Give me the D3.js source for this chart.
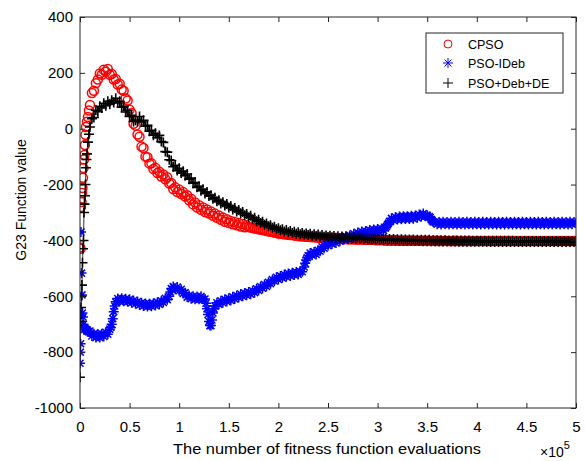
<!DOCTYPE html>
<html>
<head>
<meta charset="utf-8">
<script src="https://cdn.jsdelivr.net/npm/d3@7"></script>
<style>
  body { margin: 0; background: #fff; }
  text { font-family: Arial, "Liberation Sans", sans-serif; fill: #000; }
</style>
</head>
<body>
<svg id="chart" width="585" height="461"></svg>
<script>
// Evaluations are in thousands. The first few thousand evaluations are listed as
// [evaluations, value] pairs, the rest are sampled every 2000 evaluations.
var sampleEvals = d3.range(10, 501, 2);

var cpsoStart = [
  [0,-425],[0.5,-430],[1,-280],[1.5,-262],[2,-230],[2.5,-212],[3,-176],[3.5,-141],[4,-110],[4.5,-94],
  [5,-58],[5.5,-22],[6,6],[7,25],[8,42],[9,65]
];
var cpsoValues = [
  85,128,136,163,176,198,193,211,204,214,
  193,196,176,178,158,161,140,136,108,101,
  68,56,18,11,-21,-29,-64,-69,-100,-102,
  -125,-124,-144,-140,-159,-154,-171,-164,-181,-174,
  -196,-194,-216,-210,-227,-218,-234,-227,-243,-238,
  -256,-251,-271,-264,-282,-274,-290,-282,-298,-289,
  -304,-296,-312,-304,-319,-311,-326,-318,-333,-324,
  -338,-330,-342,-334,-346,-338,-350,-341,-353,-346,
  -352,-354,-355,-357,-358,-360,-361,-363,-364,-366,
  -367,-369,-370,-372,-373,-375,-376,-377,-378,-379,
  -380,-381,-381,-382,-383,-384,-385,-385,-386,-387,
  -387,-388,-388,-389,-389,-390,-390,-391,-391,-392,
  -392,-393,-393,-393,-394,-394,-394,-395,-395,-395,
  -396,-396,-396,-396,-397,-397,-397,-397,-397,-398,
  -398,-398,-398,-398,-399,-399,-399,-399,-399,-400,
  -400,-400,-400,-400,-400,-400,-401,-400,-401,-400,
  -401,-401,-400,-401,-401,-401,-401,-401,-401,-401,
  -401,-401,-402,-401,-401,-402,-401,-402,-402,-401,
  -402,-402,-402,-402,-401,-402,-402,-402,-402,-402,
  -402,-402,-402,-402,-402,-402,-402,-402,-402,-402,
  -402,-402,-402,-402,-402,-402,-402,-402,-402,-402,
  -402,-402,-402,-402,-402,-402,-402,-402,-402,-402,
  -402,-402,-402,-402,-402,-402,-402,-402,-402,-402,
  -402,-402,-402,-402,-402,-402,-402,-402,-402,-402,
  -402,-402,-402,-402,-402,-402
];

var psoIdebStart = [
  [0,-840],[0.3,-800],[0.6,-770],[1,-370],[1.5,-517],[2,-595],[2.5,-660],[3,-674],[3.5,-700],[4,-720],
  [5,-714],[6,-718],[7,-722],[8,-725],[9,-728],
  [31,-712],[33,-680],[35,-635],[91,-585],[127,-625],[129,-665],[131,-705],[133,-685],[135,-645],
  [227,-482],[229,-462],[309,-350],[311,-338],[353,-318],[355,-330]
];
var psoIdebValues = [
  -724,-742,-734,-748,-735,-748,-734,-744,-729,-736,
  -718,-700,-655,-620,-608,-618,-607,-618,-609,-620,
  -611,-623,-615,-627,-619,-631,-623,-635,-626,-637,
  -627,-636,-625,-633,-621,-629,-616,-622,-607,-612,
  -600,-572,-565,-575,-567,-580,-575,-590,-587,-603,
  -597,-609,-600,-611,-601,-611,-600,-611,-610,-645,
  -690,-705,-660,-635,-623,-629,-616,-623,-611,-619,
  -607,-615,-602,-610,-597,-604,-592,-600,-588,-596,
  -585,-593,-580,-587,-573,-579,-565,-571,-558,-565,
  -550,-555,-540,-545,-532,-540,-527,-534,-522,-530,
  -518,-527,-516,-524,-513,-522,-511,-512,-495,-470,
  -455,-445,-453,-441,-450,-435,-439,-423,-428,-413,
  -419,-406,-413,-401,-409,-396,-403,-390,-397,-385,
  -394,-382,-389,-376,-384,-372,-380,-368,-377,-366,
  -374,-363,-372,-361,-370,-359,-369,-357,-365,-355,
  -344,-332,-321,-328,-316,-325,-314,-324,-313,-323,
  -313,-323,-312,-322,-311,-319,-307,-315,-304,-313,
  -310,-314,-325,-334,-333,-342,-334,-343,-333,-342,
  -334,-343,-333,-342,-334,-343,-333,-342,-334,-343,
  -333,-342,-334,-343,-333,-342,-334,-343,-333,-342,
  -334,-343,-333,-342,-334,-343,-333,-342,-334,-343,
  -333,-342,-334,-343,-333,-342,-334,-343,-333,-342,
  -334,-343,-333,-342,-334,-343,-333,-342,-334,-343,
  -333,-342,-334,-343,-333,-342,-334,-343,-333,-342,
  -334,-343,-333,-342,-334,-338
];

var psoDebDeStart = [
  [0,-890],[0.5,-690],[1,-640],[1.5,-600],[2,-560],[2.5,-480],[3,-430],[3.5,-400],[4,-300],[4.5,-270],
  [5,-240],[5.5,-200],[6,-140],[6.5,-110],[7,-90],[8,-48],[9,-20]
];
var psoDebDeValues = [
  6,36,40,66,61,80,74,91,82,98,
  88,102,94,109,92,98,77,80,60,66,
  44,48,26,30,26,44,24,30,9,12,
  -9,-6,-23,-16,-32,-24,-46,-49,-82,-84,
  -111,-114,-136,-131,-150,-142,-159,-152,-168,-162,
  -181,-177,-195,-193,-210,-206,-222,-217,-232,-227,
  -241,-238,-251,-247,-260,-256,-268,-263,-275,-270,
  -282,-277,-289,-284,-296,-291,-303,-298,-310,-305,
  -317,-312,-324,-319,-331,-326,-338,-333,-344,-339,
  -349,-346,-355,-351,-360,-356,-364,-360,-368,-363,
  -371,-366,-373,-369,-376,-371,-378,-373,-380,-375,
  -381,-376,-383,-378,-384,-379,-386,-381,-387,-382,
  -388,-383,-389,-384,-390,-385,-391,-386,-392,-387,
  -393,-388,-394,-389,-394,-389,-395,-390,-396,-391,
  -397,-392,-397,-393,-398,-393,-398,-394,-399,-394,
  -399,-395,-400,-395,-400,-396,-401,-396,-401,-397,
  -401,-397,-402,-397,-402,-398,-402,-398,-403,-398,
  -403,-398,-403,-399,-404,-399,-404,-399,-404,-399,
  -404,-400,-404,-400,-405,-400,-405,-400,-405,-400,
  -405,-400,-405,-401,-405,-401,-405,-401,-405,-401,
  -405,-401,-406,-401,-406,-401,-406,-401,-406,-401,
  -406,-401,-406,-401,-406,-402,-406,-402,-406,-402,
  -406,-402,-406,-402,-406,-402,-406,-402,-406,-402,
  -406,-402,-406,-402,-406,-402,-406,-402,-406,-402,
  -406,-402,-406,-402,-406,-402
];

var seriesNames = ["CPSO", "PSO-IDeb", "PSO+Deb+DE"];
var yTicks = [-1000, -800, -600, -400, -200, 0, 200, 400];
var xTicks = [0, 50, 100, 150, 200, 250, 300, 350, 400, 450, 500];

function buildSeries(start, values) {
  var pts = start.slice();
  values.forEach(function(v, i) {
    if (i < sampleEvals.length) pts.push([sampleEvals[i], v]);
  });
  return pts.sort(function(a, b) { return a[0] - b[0]; });
}

var cpsoData = buildSeries(cpsoStart, cpsoValues);
var psoIdebData = buildSeries(psoIdebStart, psoIdebValues);
var psoDebDeData = buildSeries(psoDebDeStart, psoDebDeValues);

var plotLeft = 80, plotRight = 576, plotTop = 17, plotBottom = 408;

var svg = d3.select('#chart');

var x = d3.scaleLinear().domain([0, 500]).range([plotLeft, plotRight]);
var y = d3.scaleLinear().domain([-1000, 400]).range([plotBottom, plotTop]);

svg.append("clipPath").attr("id", "plot-clip")
   .append("rect").attr("x", plotLeft).attr("y", plotTop)
   .attr("width", plotRight - plotLeft).attr("height", plotBottom - plotTop);

var plot = svg.append("g").attr("clip-path", "url(#plot-clip)");

var plusPath = "M-5,0H5M0,-5V5";
var starPath = "M-5,0H5M0,-5V5M-3.5,-3.5L3.5,3.5M-3.5,3.5L3.5,-3.5";

// CPSO: red circles
plot.append("g").selectAll("circle")
   .data(cpsoData)
   .enter()
   .append("circle")
   .attr("cx", (d) => x(d[0]))
   .attr("cy", (d) => y(d[1]))
   .attr("r", 4.5)
   .attr("fill", "none")
   .attr("stroke", "#ff0000")
   .attr("stroke-width", 1.5);

// PSO-IDeb: blue stars
plot.append("g").selectAll("path")
   .data(psoIdebData)
   .enter()
   .append("path")
   .attr("d", starPath)
   .attr("transform", (d) => "translate(" + x(d[0]) + "," + y(d[1]) + ")")
   .attr("fill", "none")
   .attr("stroke", "#0000ff")
   .attr("stroke-width", 1.5);

// PSO+Deb+DE: thin black line with plus markers
var line = d3.line().x((d) => x(d[0])).y((d) => y(d[1]));
plot.append("path")
   .attr("d", line(psoDebDeData))
   .attr("fill", "none")
   .attr("stroke", "#000")
   .attr("stroke-width", 0.8);

plot.append("g").selectAll("path")
   .data(psoDebDeData)
   .enter()
   .append("path")
   .attr("d", plusPath)
   .attr("transform", (d) => "translate(" + x(d[0]) + "," + y(d[1]) + ")")
   .attr("fill", "none")
   .attr("stroke", "#000")
   .attr("stroke-width", 1.6);

// Axes (box with inward ticks)
var axisColor = "#262626";

function styleAxis(g) {
  g.select(".domain").remove();
  g.selectAll(".tick line").attr("stroke", axisColor);
  g.selectAll(".tick text").style("font-size", "15px").attr("fill", "#000");
}

svg.append("g")
   .attr("transform", "translate(0," + plotBottom + ")")
   .call(d3.axisBottom(x).tickValues(xTicks).tickSize(-5).tickPadding(13)
     .tickFormat((d) => String(d / 100)))
   .call(styleAxis);

svg.append("g")
   .attr("transform", "translate(0," + plotTop + ")")
   .call(d3.axisTop(x).tickValues(xTicks).tickSize(-5).tickFormat(""))
   .call(styleAxis);

svg.append("g")
   .attr("transform", "translate(" + plotLeft + ",0)")
   .call(d3.axisLeft(y).tickValues(yTicks).tickSize(-5).tickPadding(7)
     .tickFormat((d) => String(d)))
   .call(styleAxis);

svg.append("g")
   .attr("transform", "translate(" + plotRight + ",0)")
   .call(d3.axisRight(y).tickValues(yTicks).tickSize(-5).tickFormat(""))
   .call(styleAxis);

svg.append("rect")
   .attr("x", plotLeft).attr("y", plotTop)
   .attr("width", plotRight - plotLeft).attr("height", plotBottom - plotTop)
   .attr("fill", "none").attr("stroke", axisColor).attr("stroke-width", 1);

// Axis labels
svg.append("text")
   .attr("x", 173).attr("y", 454)
   .attr("textLength", 308)
   .attr("lengthAdjust", "spacingAndGlyphs")
   .style("font-size", "15px")
   .text("The number of fitness function evaluations");

var expo = svg.append("text")
   .attr("x", 540).attr("y", 457)
   .style("font-size", "14px");
expo.append("tspan").text("\u00d710");
expo.append("tspan").attr("dy", -8).style("font-size", "11px").text("5");

svg.append("text")
   .attr("transform", "translate(26,200) rotate(-90)")
   .attr("text-anchor", "middle")
   .style("font-size", "14px")
   .text("G23 Function value");

// Legend
var legend = svg.append("g");
legend.append("rect")
   .attr("x", 426).attr("y", 33).attr("width", 137).attr("height", 60)
   .attr("fill", "#fff").attr("stroke", axisColor).attr("stroke-width", 1);

var legendY = [44, 63, 83];
legend.append("circle")
   .attr("cx", 448).attr("cy", legendY[0]).attr("r", 4)
   .attr("fill", "none").attr("stroke", "#ff0000");
legend.append("path")
   .attr("d", starPath).attr("transform", "translate(448," + legendY[1] + ")")
   .attr("fill", "none").attr("stroke", "#0000ff");
legend.append("path")
   .attr("d", plusPath).attr("transform", "translate(448," + legendY[2] + ")")
   .attr("fill", "none").attr("stroke", "#000");

legend.selectAll("text.lbl")
   .data(seriesNames)
   .enter()
   .append("text")
   .attr("class", "lbl")
   .attr("x", 468)
   .attr("y", (d, i) => legendY[i] + 4.5)
   .style("font-size", "12.5px")
   .text((d) => d);
</script>
</body>
</html>
